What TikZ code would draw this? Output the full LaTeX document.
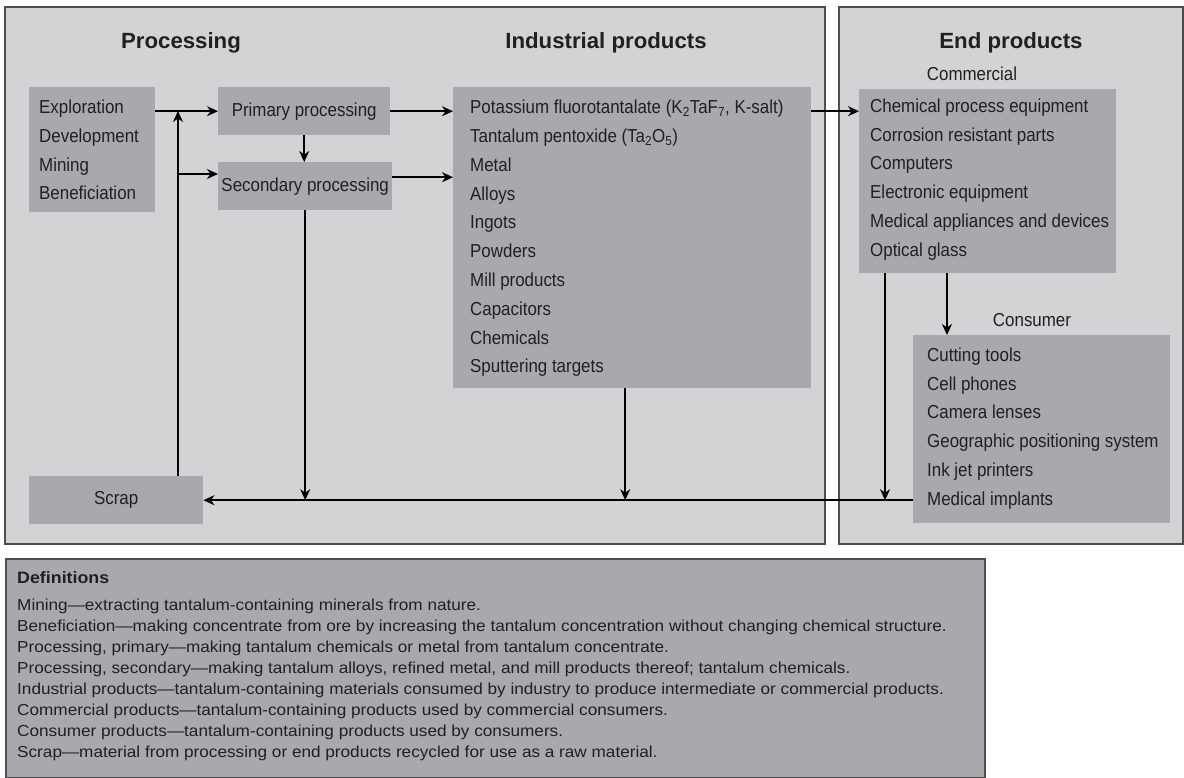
\documentclass[tikz,border=0pt]{standalone}
\usepackage{fontspec}
\setmainfont{Liberation Sans}[FakeStretch=0.9]
\newfontfamily\widefam{Liberation Sans}[FakeStretch=1.08]
\newfontfamily\ttlfam{Liberation Sans}[FakeStretch=1.01]
\usetikzlibrary{arrows.meta}
\definecolor{panel}{HTML}{D1D3D4}
\definecolor{boxg}{HTML}{A7A9AC}
\definecolor{ink}{HTML}{231F20}
\definecolor{edge}{HTML}{4D4D4F}
\newcommand\bxfont{\fontsize{18.8}{28.8}\selectfont}
\newcommand\ttlfont{\ttlfam\fontsize{22}{26}\selectfont\bfseries}
\newcommand\dfnfont{\widefam\fontsize{15.9}{21}\selectfont}
\tikzset{
  panelbox/.style={draw=edge, line width=1.2pt, fill=panel},
  gbox/.style={fill=boxg, draw=none, inner sep=0pt, text=ink, font=\bxfont, anchor=north west},
  listtext/.style={anchor=west, align=left, inner sep=0pt, text=ink, font=\bxfont},
  ttl/.style={font=\ttlfont, text=ink, inner sep=0pt},
  sub/.style={font=\bxfont, text=ink, inner sep=0pt},
  flow/.style={draw=black, line width=1.5pt, -{Stealth[length=11pt,width=10pt,inset=3.5pt]}},
}
\begin{document}
\begin{tikzpicture}[x=1pt,y=-1pt]
\useasboundingbox (0,0) rectangle (1184,778);
% panels
\draw[panelbox] (5,7) rectangle (825,544);
\draw[panelbox] (839,7) rectangle (1183,544);
\draw[panelbox, fill=boxg] (6,559) rectangle (985,777.5);
% titles
\node[ttl] (tproc) at (181,43) {Processing};
\node[ttl] (tind) at (606,43) {Industrial products};
\node[ttl] (tend) at (1011,43) {End products};
\node[sub] (tcomm) at (972,74) {Commercial};
\node[sub] (tcons) at (1032,320) {Consumer};
% boxes
\node[gbox, minimum width=126pt, minimum height=125pt] (expl) at (29,87) {};
\node[gbox, minimum width=172pt, minimum height=48pt] (prim) at (218,87) {Primary processing};
\node[gbox, minimum width=174pt, minimum height=48pt] (sec) at (218,162) {Secondary processing};
\node[gbox, minimum width=174pt, minimum height=48pt] (scrap) at (29,476) {Scrap};
\node[gbox, minimum width=358pt, minimum height=301pt] (ind) at (453,87) {};
\node[gbox, minimum width=257pt, minimum height=184pt] (comm) at (859,89) {};
\node[gbox, minimum width=257pt, minimum height=188pt] (cons) at (913,335) {};
% box texts
\node[listtext] (explt) at (39,150) {Exploration\\Development\\Mining\\Beneficiation};
\node[listtext] (indt) at (470,238.5)
  {Potassium fluorotantalate (K\textsubscript{2}TaF\textsubscript{7}, K-salt)\\
   Tantalum pentoxide (Ta\textsubscript{2}O\textsubscript{5})\\Metal\\Alloys\\Ingots\\Powders\\Mill products\\Capacitors\\Chemicals\\Sputtering targets};
\node[listtext] (commt) at (870,179.5)
  {Chemical process equipment\\Corrosion resistant parts\\Computers\\Electronic equipment\\Medical appliances and devices\\Optical glass};
\node[listtext] (const) at (927,428.5)
  {Cutting tools\\Cell phones\\Camera lenses\\Geographic positioning system\\Ink jet printers\\Medical implants};
% definitions
\node[anchor=north west, inner sep=0pt, align=left, text=ink, font=\dfnfont] (defs) at (17,571)
  {{\fontsize{16.5}{21}\selectfont\bfseries Definitions}\\[6pt]
   Mining—extracting tantalum-containing minerals from nature.\\
   Beneficiation—making concentrate from ore by increasing the tantalum concentration without changing chemical structure.\\
   Processing, primary—making tantalum chemicals or metal from tantalum concentrate.\\
   Processing, secondary—making tantalum alloys, refined metal, and mill products thereof; tantalum chemicals.\\
   Industrial products—tantalum-containing materials consumed by industry to produce intermediate or commercial products.\\
   Commercial products—tantalum-containing products used by commercial consumers.\\
   Consumer products—tantalum-containing products used by consumers.\\
   Scrap—material from processing or end products recycled for use as a raw material.};
% connectors
\coordinate (jA) at (178,111);
\coordinate (jB) at (178,174);
\draw[flow] (expl.east |- prim.west) -- (prim.west);
\draw[flow] (scrap.north -| jA) -- (jA);
\draw[flow] (jB) -- (jB -| sec.west);
\draw[flow] (prim.south) -- (prim.south |- sec.north);
\draw[flow] (sec.south) -- (sec.south |- scrap.east);
\draw[flow] (prim.east) -- (prim.east -| ind.west);
\draw[flow] ([yshift=9pt]sec.east) -- ([yshift=9pt]sec.east -| ind.west);
\draw[flow] ([xshift=-7pt]ind.south) -- ([xshift=-7pt]ind.south |- scrap.east);
\draw[flow] (prim.east -| ind.east) -- (prim.east -| comm.west);
\draw[flow] ([xshift=88pt]comm.south west) -- ([xshift=88pt]comm.south west |- cons.north);
\draw[flow] ([xshift=26pt]comm.south west) -- ([xshift=26pt]comm.south west |- scrap.east);
\draw[flow] (cons.west |- scrap.east) -- (scrap.east);
\end{tikzpicture}
\end{document}
